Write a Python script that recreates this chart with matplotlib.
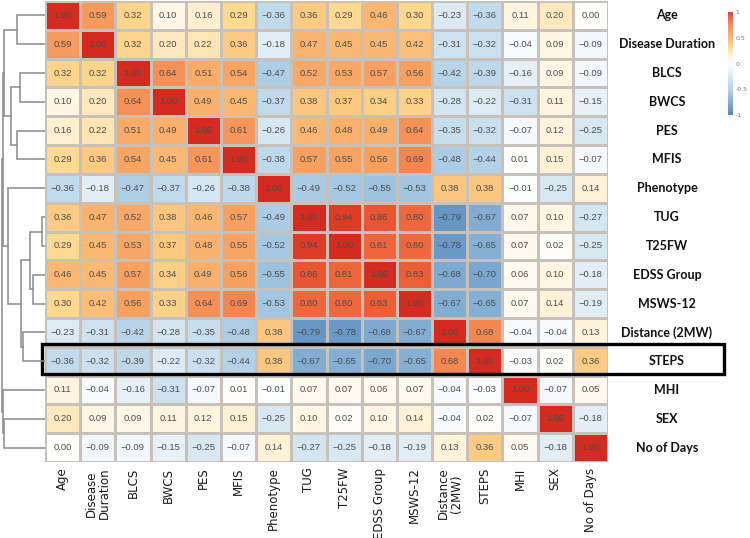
import matplotlib
matplotlib.use("Agg")
import matplotlib.pyplot as plt
import numpy as np
from matplotlib.colors import LinearSegmentedColormap
from matplotlib.patches import Rectangle

labels = ["Age", "Disease Duration", "BLCS", "BWCS", "PES", "MFIS", "Phenotype",
          "TUG", "T25FW", "EDSS Group", "MSWS-12", "Distance (2MW)", "STEPS",
          "MHI", "SEX", "No of Days"]
xlabels = ["Age", "Disease\nDuration", "BLCS", "BWCS", "PES", "MFIS", "Phenotype",
           "TUG", "T25FW", "EDSS Group", "MSWS-12", "Distance\n(2MW)", "STEPS",
           "MHI", "SEX", "No of Days"]

r_age      = [1.00, 0.59, 0.32, 0.10, 0.16, 0.29, -0.36, 0.36, 0.29, 0.46, 0.30, -0.23, -0.36, 0.11, 0.20, 0.00]
r_dd       = [0.59, 1.00, 0.32, 0.20, 0.22, 0.36, -0.18, 0.47, 0.45, 0.45, 0.42, -0.31, -0.32, -0.04, 0.09, -0.09]
r_blcs     = [0.32, 0.32, 1.00, 0.64, 0.51, 0.54, -0.47, 0.52, 0.53, 0.57, 0.56, -0.42, -0.39, -0.16, 0.09, -0.09]
r_bwcs     = [0.10, 0.20, 0.64, 1.00, 0.49, 0.45, -0.37, 0.38, 0.37, 0.34, 0.33, -0.28, -0.22, -0.31, 0.11, -0.15]
r_pes      = [0.16, 0.22, 0.51, 0.49, 1.00, 0.61, -0.26, 0.46, 0.48, 0.49, 0.64, -0.35, -0.32, -0.07, 0.12, -0.25]
r_mfis     = [0.29, 0.36, 0.54, 0.45, 0.61, 1.00, -0.38, 0.57, 0.55, 0.56, 0.69, -0.48, -0.44, 0.01, 0.15, -0.07]
r_pheno    = [-0.36, -0.18, -0.47, -0.37, -0.26, -0.38, 1.00, -0.49, -0.52, -0.55, -0.53, 0.38, 0.38, -0.01, -0.25, 0.14]
r_tug      = [0.36, 0.47, 0.52, 0.38, 0.46, 0.57, -0.49, 1.00, 0.94, 0.86, 0.80, -0.79, -0.67, 0.07, 0.10, -0.27]
r_t25fw    = [0.29, 0.45, 0.53, 0.37, 0.48, 0.55, -0.52, 0.94, 1.00, 0.81, 0.80, -0.78, -0.65, 0.07, 0.02, -0.25]
r_edss     = [0.46, 0.45, 0.57, 0.34, 0.49, 0.56, -0.55, 0.86, 0.81, 1.00, 0.83, -0.68, -0.70, 0.06, 0.10, -0.18]
r_msws     = [0.30, 0.42, 0.56, 0.33, 0.64, 0.69, -0.53, 0.80, 0.80, 0.83, 1.00, -0.67, -0.65, 0.07, 0.14, -0.19]
r_dist     = [-0.23, -0.31, -0.42, -0.28, -0.35, -0.48, 0.38, -0.79, -0.78, -0.68, -0.67, 1.00, 0.68, -0.04, -0.04, 0.13]
r_steps    = [-0.36, -0.32, -0.39, -0.22, -0.32, -0.44, 0.38, -0.67, -0.65, -0.70, -0.65, 0.68, 1.00, -0.03, 0.02, 0.36]
r_mhi      = [0.11, -0.04, -0.16, -0.31, -0.07, 0.01, -0.01, 0.07, 0.07, 0.06, 0.07, -0.04, -0.03, 1.00, -0.07, 0.05]
r_sex      = [0.20, 0.09, 0.09, 0.11, 0.12, 0.15, -0.25, 0.10, 0.02, 0.10, 0.14, -0.04, 0.02, -0.07, 1.00, -0.18]
r_days     = [0.00, -0.09, -0.09, -0.15, -0.25, -0.07, 0.14, -0.27, -0.25, -0.18, -0.19, 0.13, 0.36, 0.05, -0.18, 1.00]

# dendrogram merges: (child a, child b, height); new node ids start at 16
merges = [(0, 1, 28.5), (2, 3, 25), (4, 5, 28), (17, 18, 34), (16, 19, 41),
          (7, 8, 3), (9, 10, 12), (21, 22, 15), (11, 12, 22), (23, 24, 24),
          (6, 25, 37), (20, 26, 42), (14, 15, 41), (13, 28, 42.3), (27, 29, 43.5)]

highlight = "STEPS"
cbar_ticks = [1, 0.5, 0, -0.5, -1]
cbar_ticklabels = ["1", "0.5", "0", "-0.5", "-1"]

M = np.array([r_age, r_dd, r_blcs, r_bwcs, r_pes, r_mfis, r_pheno, r_tug, r_t25fw,
              r_edss, r_msws, r_dist, r_steps, r_mhi, r_sex, r_days])
n = len(labels)

cmap = LinearSegmentedColormap.from_list("corr", [
    (0.0, "#3f6fa8"), (0.125, "#6f9fca"), (0.25, "#a9cbe4"), (0.375, "#d8e8f2"),
    (0.5, "#ffffff"), (0.575, "#fff1d6"), (0.65, "#fdd88e"), (0.75, "#f9ae6a"),
    (0.85, "#f3844e"), (0.925, "#ec5a35"), (1.0, "#d42a1f")])

W, H = 750, 538
fig = plt.figure(figsize=(W / 100, H / 100), dpi=100)

hx0, hx1, hy0, hy1 = 45, 608, 1, 462
ax = fig.add_axes([hx0 / W, 1 - hy1 / H, (hx1 - hx0) / W, (hy1 - hy0) / H])
mesh = ax.pcolormesh(np.arange(n + 1), np.arange(n + 1), M, cmap=cmap, vmin=-1, vmax=1,
                     edgecolors="#c8c1ba", linewidth=0.8)
ax.set_xlim(0, n)
ax.set_ylim(n, 0)
for i in range(n):
    for j in range(n):
        ax.text(j + 0.5, i + 0.5, f"{M[i, j]:.2f}".replace("-", "\u2212"),
                ha="center", va="center", fontsize=6.8, color="#4d4d4d",
                family="Liberation Sans")
ax.set_xticks(np.arange(n) + 0.5)
ax.set_xticklabels(xlabels, rotation=90, fontsize=8.5, color="#1a1a1a",
                   ha="center", va="top", linespacing=1.0)
ax.tick_params(axis="x", length=0, pad=4)
ax.set_yticks([])
for s in ax.spines.values():
    s.set_visible(False)

# row labels on the right
cw = (hx1 - hx0) / n
for i, lab in enumerate(labels):
    ax.text(n + (667 - hx1) / cw, i + 0.5, lab, ha="center", va="center",
            fontsize=9, fontweight="bold", family="Lato",
            color="#111111", clip_on=False)

# highlight box
k = labels.index(highlight)
ax.add_patch(Rectangle((-3 / cw, k - 0.1), (724 - 42) / cw, 1.05, fill=False,
                       edgecolor="black", linewidth=2.4, clip_on=False, zorder=5))

# dendrogram
dax = fig.add_axes([0, 1 - hy1 / H, hx0 / W, (hy1 - hy0) / H])
dax.set_ylim(n, 0)
dax.set_xlim(45, 0)
dax.axis("off")
pos = {i: (0.0, i + 0.5) for i in range(n)}
nid = n
for a, b, h in merges:
    ha_, ya = pos[a]
    hb_, yb = pos[b]
    dax.plot([ha_, h, h, hb_], [ya, ya, yb, yb], color="#8a8a8a", lw=1.1,
             solid_joinstyle="miter")
    pos[nid] = (h, (ya + yb) / 2)
    nid += 1

# colorbar
cax = fig.add_axes([728 / W, 1 - 115 / H, 5 / W, 103 / H])
cb = fig.colorbar(mesh, cax=cax, ticks=cbar_ticks)
cb.outline.set_visible(False)
cb.ax.set_yticklabels(cbar_ticklabels)
cb.ax.tick_params(labelsize=4.5, length=0, pad=2, colors="#777777")
cb.solids.set_alpha(0.85)

fig.savefig("out.png", dpi=100)
